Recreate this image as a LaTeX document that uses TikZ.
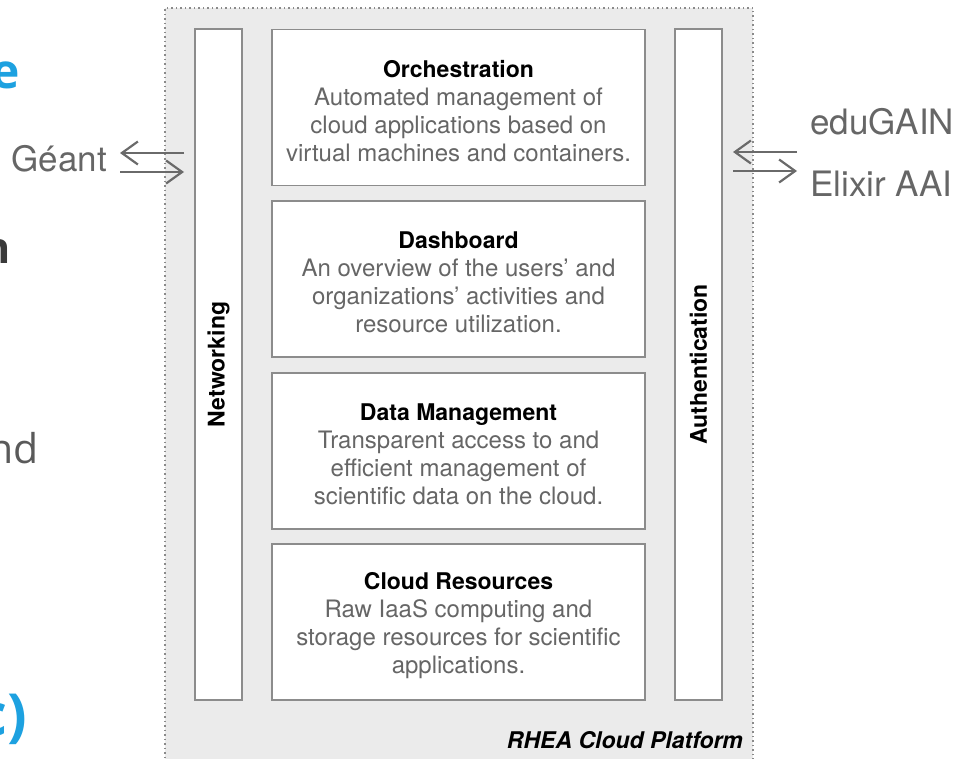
\documentclass[tikz,border=0pt]{standalone}
\usepackage{fontspec}
\setmainfont{TeX Gyre Heros}
\newfontfamily\fragfont{Open Sans}
\usetikzlibrary{arrows.meta}
\definecolor{platgray}{HTML}{EBEBEB}
\definecolor{edgegray}{HTML}{8C8C8C}
\definecolor{dotgray}{HTML}{8A8A8A}
\definecolor{txtgray}{HTML}{666666}
\definecolor{arrgray}{HTML}{6A6A6A}
\definecolor{fragblue}{HTML}{1DA1E0}
\definecolor{fragdark}{HTML}{3A3A3A}
\definecolor{fraggray}{HTML}{5A5A5A}
\newcommand{\layertitle}[1]{{\fontsize{23}{28}\selectfont\bfseries\color{black}#1}}
\begin{document}
\begin{tikzpicture}[x=1pt,y=-1pt,
  layerbox/.style={draw=edgegray, line width=1.5pt, fill=white,
    minimum width=373pt, minimum height=156pt, inner sep=0pt},
  layertext/.style={inner sep=0pt, align=center, text=txtgray,
    font=\fontsize{24}{28}\selectfont, yshift=-3.5pt},
  sidebar/.style={draw=edgegray, line width=1.5pt, fill=white,
    minimum width=47pt, minimum height=671pt, inner sep=0pt},
  sidelabel/.style={rotate=90, text=black, font=\fontsize{23}{28}\selectfont\bfseries},
  extlabel/.style={text=txtgray, font=\fontsize{35}{40}\selectfont, inner sep=0pt},
  arr/.style={draw=arrgray, line width=2.2pt, -{Straight Barb[length=16pt,width=23pt,line width=2.2pt]}},
  frag/.style={inner sep=0pt, anchor=base east}
]
\useasboundingbox (0,0) rectangle (957,759);
\clip (0,0) rectangle (957,759);

% clipped fragments of neighbouring text
\node[frag, text=fragblue, font=\fontsize{48}{50}\fragfont\bfseries] (fe) at (20,89) {e};
\node[frag, text=fragdark, font=\fontsize{43}{46}\fragfont\bfseries] (fn) at (11,263) {n};
\node[frag, text=fraggray, font=\fontsize{41}{44}\fragfont] (fnd) at (39,463) {nd};
\node[frag, text=fragblue, font=\fontsize{58}{60}\fragfont\bfseries] (fc) at (27,735) {c)};

% platform
\node[draw=dotgray, fill=platgray, line width=1.2pt, dash pattern=on 1.5pt off 3pt,
  minimum width=588pt, minimum height=780pt, inner sep=0pt] (plat) at (459,398) {};
\node[anchor=base east, inner sep=0pt, text=black,
  font=\fontsize{23}{28}\selectfont\bfseries\itshape] (platlbl) at (743,748) {RHEA Cloud Platform};

% side bars
\node[sidebar] (net) at (218.5,364.5) {};
\node[sidelabel] (netlbl) at (net.center) {Networking};
\node[sidebar] (auth) at (698.5,364.5) {};
\node[sidelabel] (authlbl) at (auth.center) {Authentication};

% layers
\node[layerbox] (orch) at (458.5,107.5) {};
\node[layertext] (orchtxt) at (orch.center) {\layertitle{Orchestration}\\Automated management of\\cloud applications based on\\virtual machines and containers.};
\node[layerbox] (dash) at (458.5,279) {};
\node[layertext] (dashtxt) at (dash.center) {\layertitle{Dashboard}\\An overview of the users’ and\\organizations’ activities and\\resource utilization.};
\node[layerbox] (data) at (458.5,451) {};
\node[layertext] (datatxt) at (data.center) {\layertitle{Data Management}\\Transparent access to and\\efficient management of\\scientific data on the cloud.};
\node[layerbox] (cloud) at (458.5,622) {};
\node[layertext] (cloudtxt) at (cloud.center) {\layertitle{Cloud Resources}\\Raw IaaS computing and\\storage resources for scientific\\applications.};

% external labels
\node[extlabel, anchor=base east] (geant) at (107,172) {Géant};
\node[extlabel, anchor=base west] (edugain) at (810,135) {eduGAIN};
\node[extlabel, anchor=base west] (elixir) at (810,197) {Elixir AAI};

% arrows
\coordinate (gl1) at (120,153);
\coordinate (gr1) at (184,153);
\coordinate (gl2) at (120,172);
\coordinate (gr2) at (184,172);
\draw[arr] (gr1) -- (gl1);
\draw[arr] (gl2) -- (gr2);
\coordinate (el1) at (733,152);
\coordinate (er1) at (797,152);
\coordinate (el2) at (733,171);
\coordinate (er2) at (797,171);
\draw[arr] (er1) -- (el1);
\draw[arr] (el2) -- (er2);
\end{tikzpicture}
\end{document}
